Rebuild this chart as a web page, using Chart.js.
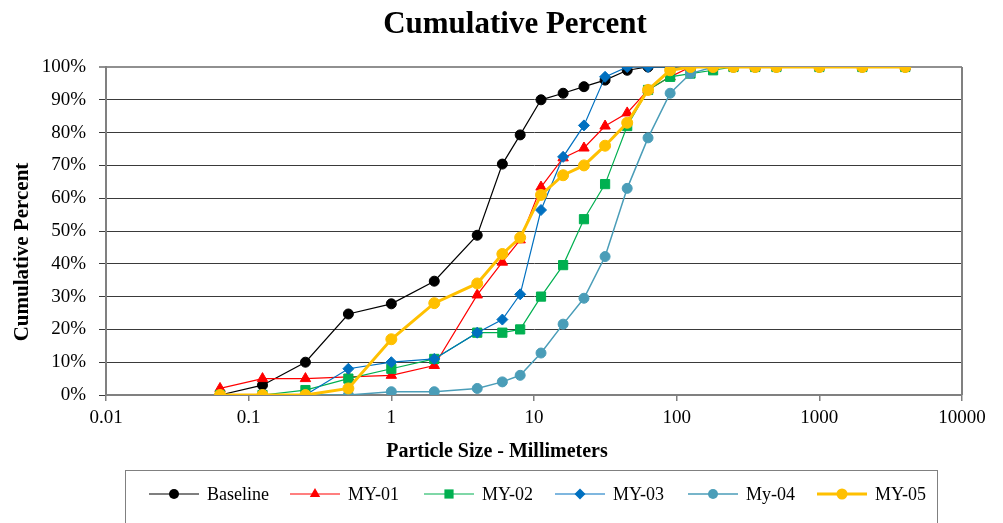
<!DOCTYPE html>
<html>
<head>
<meta charset="utf-8">
<script src="https://cdn.jsdelivr.net/npm/chart.js@4/dist/chart.umd.min.js"></script>
<style>
  html, body { margin: 0; padding: 0; background: #fff; }
  #wrap { width: 1003px; height: 523px; }
</style>
</head>
<body>
<div id="wrap"><canvas id="grafico" width="1003" height="523"></canvas></div>
<script>
// sieve sizes (mm)
const sizes = [0.063, 0.125, 0.25, 0.5, 1, 2, 4, 6, 8, 11.2, 16, 22.4, 31.5, 45, 63, 90, 125, 180, 250, 355, 500, 1000, 2000, 4000];

// cumulative percent per sample
const baseline = [0, 3, 10, 24.7, 27.8, 34.7, 48.7, 70.4, 79.3, 90, 92, 94, 96, 99, 100, 100, 100, 100, 100, 100, 100, 100, 100, 100];
const my01 = [2, 5, 5, 5.5, 6, 9, 30.5, 40.5, 47.3, 63.4, 72.3, 75.3, 82, 86, 93, 97, 100, 100, 100, 100, 100, 100, 100, 100];
const my02 = [0, 0, 1.5, 5, 8, 11, 19, 19, 20, 30, 39.6, 53.6, 64.3, 82, 93, 97, 98, 99, 100, 100, 100, 100, 100, 100];
const my03 = [0, 0, 0, 8, 10, 11, 19, 23, 30.7, 56.4, 72.6, 82.2, 97, 100, 100, 100, 100, 100, 100, 100, 100, 100, 100, 100];
const my04 = [0, 0, 0, 0, 1, 1, 2, 4, 6, 12.8, 21.6, 29.5, 42.2, 63, 78.4, 92, 98, 100, 100, 100, 100, 100, 100, 100];
const my05 = [0, 0, 0, 2, 17, 28, 34, 43, 48, 61, 67, 70, 76, 83, 93, 99, 100, 100, 100, 100, 100, 100, 100, 100];

const seriesNames = ["Baseline", "MY-01", "MY-02", "MY-03", "My-04", "MY-05"];
const xTicks = [0.01, 0.1, 1, 10, 100, 1000, 10000];
const xTickLabels = ["0.01", "0.1", "1", "10", "100", "1000", "10000"];

const SERIF = "'Liberation Serif', 'DejaVu Serif', serif";

function pts(vals) {
    return sizes.map((x, i) => ({ x: x, y: vals[i] }));
}

// estilos de cada serie
const estilos = [
    { color: "#000000", pointStyle: "circle", radius: 5, width: 1.2 },
    { color: "#FF0000", pointStyle: "triangle", radius: 6, width: 1.2 },
    { color: "#00B050", pointStyle: "rect", radius: 6.5, width: 1.2 },
    { color: "#0070C0", pointStyle: "rectRot", radius: 5.5, width: 1.2 },
    { color: "#4A9DB8", pointStyle: "circle", radius: 5, width: 1.5 },
    { color: "#FFC000", pointStyle: "circle", radius: 5.5, width: 3 }
];

const valores = [baseline, my01, my02, my03, my04, my05];

let datasets = valores.map((vals, i) => ({
    label: seriesNames[i],
    data: pts(vals),
    showLine: true,
    borderColor: estilos[i].color,
    backgroundColor: estilos[i].color,
    borderWidth: estilos[i].width,
    pointStyle: estilos[i].pointStyle,
    pointRadius: estilos[i].radius,
    pointHoverRadius: estilos[i].radius,
    pointBorderWidth: 1,
    pointBorderColor: estilos[i].color,
    pointBackgroundColor: estilos[i].color,
    tension: 0,
    order: valores.length - i   // last series on top, like Excel
}));

// marker for legend
function drawMarker(ctx, style, r, x, y, color) {
    ctx.save();
    ctx.fillStyle = color;
    ctx.beginPath();
    if (style === "circle") {
        ctx.arc(x, y, r, 0, Math.PI * 2);
    } else if (style === "triangle") {
        ctx.moveTo(x, y - r);
        ctx.lineTo(x + r * 0.866, y + r * 0.5);
        ctx.lineTo(x - r * 0.866, y + r * 0.5);
        ctx.closePath();
    } else if (style === "rect") {
        let s = r * Math.SQRT1_2;
        ctx.rect(x - s, y - s, 2 * s, 2 * s);
    } else if (style === "rectRot") {
        ctx.moveTo(x, y - r);
        ctx.lineTo(x + r, y);
        ctx.lineTo(x, y + r);
        ctx.lineTo(x - r, y);
        ctx.closePath();
    }
    ctx.fill();
    ctx.restore();
}

// titles, right border and legend box
const decoracion = {
    id: "decoracion",
    afterDraw(chart) {
        const ctx = chart.ctx;
        const a = chart.chartArea;
        ctx.save();

        // right border of plot area
        ctx.strokeStyle = "#808080";
        ctx.lineWidth = 2;
        ctx.beginPath();
        ctx.moveTo(a.right, a.top);
        ctx.lineTo(a.right, a.bottom);
        ctx.stroke();

        ctx.fillStyle = "#000";
        ctx.textAlign = "center";
        ctx.textBaseline = "alphabetic";

        ctx.font = "bold 31px " + SERIF;
        ctx.fillText("Cumulative Percent", 515, 33);

        ctx.font = "bold 20px " + SERIF;
        ctx.fillText("Particle Size - Millimeters", 497, 457);

        ctx.save();
        ctx.translate(28, 252);
        ctx.rotate(-Math.PI / 2);
        ctx.font = "bold 21px " + SERIF;
        ctx.fillText("Cumulative Percent", 0, 0);
        ctx.restore();

        // legend
        ctx.strokeStyle = "#808080";
        ctx.lineWidth = 1;
        ctx.strokeRect(125.5, 470.5, 812, 60);

        const legendX = [149, 290, 424, 555, 688, 817];
        const ly = 494;
        ctx.font = "18px " + SERIF;
        ctx.textAlign = "left";
        ctx.textBaseline = "middle";
        chart.data.datasets.forEach((ds, i) => {
            let x0 = legendX[i];
            ctx.strokeStyle = ds.borderColor;
            ctx.lineWidth = ds.borderWidth;
            ctx.beginPath();
            ctx.moveTo(x0, ly);
            ctx.lineTo(x0 + 50, ly);
            ctx.stroke();
            drawMarker(ctx, ds.pointStyle, ds.pointRadius, x0 + 25, ly, ds.borderColor);
            ctx.fillStyle = "#000";
            ctx.fillText(ds.label, x0 + 58, ly + 1);
        });

        ctx.restore();
    }
};

const chart = new Chart(document.getElementById("grafico"), {
    type: "scatter",
    data: { datasets: datasets },
    options: {
        responsive: false,
        animation: false,
        layout: { padding: { top: 67, right: 41, left: 0, bottom: 0 } },
        plugins: {
            legend: { display: false },
            title: { display: false },
            tooltip: { enabled: false }
        },
        scales: {
            x: {
                type: "logarithmic",
                min: 0.01,
                max: 10000,
                afterBuildTicks: (scale) => {
                    scale.ticks = xTicks.map(v => ({ value: v }));
                },
                afterFit: (scale) => { scale.height = 128; },
                ticks: {
                    autoSkip: false,
                    maxRotation: 0,
                    padding: 6,
                    color: "#000",
                    font: { family: SERIF, size: 19 },
                    callback: function (value) {
                        let i = xTicks.indexOf(value);
                        return i >= 0 ? xTickLabels[i] : "";
                    }
                },
                grid: {
                    drawOnChartArea: false,
                    drawTicks: true,
                    tickLength: 6,
                    color: "#808080",
                    lineWidth: 1.5
                },
                border: { color: "#808080", width: 2 }
            },
            y: {
                min: 0,
                max: 100,
                afterFit: (scale) => { scale.width = 106; },
                ticks: {
                    stepSize: 10,
                    padding: 13,
                    color: "#000",
                    font: { family: SERIF, size: 19 },
                    callback: v => v + "%"
                },
                grid: {
                    tickLength: 7,
                    color: ctx => (ctx.tick && ctx.tick.value === 100) ? "#909090" : "#3a3a3a",
                    lineWidth: ctx => (ctx.tick && ctx.tick.value === 100) ? 2 : 1
                },
                border: { color: "#808080", width: 2 }
            }
        }
    },
    plugins: [decoracion]
});
</script>
</body>
</html>
